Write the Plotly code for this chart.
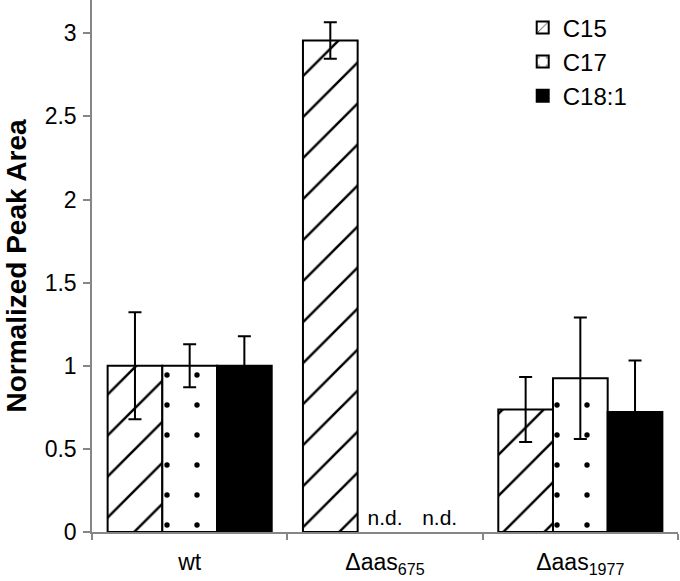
import plotly.graph_objects as go

categories = ["wt", "Δaas675", "Δaas1977"]
tick_labels = ["wt", "Δaas<sub>675</sub>", "Δaas<sub>1977</sub>"]
series_names = ["C15", "C17", "C18:1"]

c15_values = [1.0, 2.956, 0.737]
c15_errors = [0.322, 0.11, 0.195]

c17_values = [1.0, 0.0, 0.925]
c17_errors = [0.129, "NaN", 0.365]
c17_text = ["", "n.d.", ""]

c181_values = [1.0, 0.0, 0.722]
c181_errors = [0.178, "NaN", 0.31]
c181_text = ["", "n.d.", ""]

FONT = "Arial, Liberation Sans, sans-serif"

def err(arr):
    return dict(type="data", array=arr, visible=True, color="black",
                thickness=2, width=6.5)

def outline(values):
    return [2 if v else 0 for v in values]

fig = go.Figure()
fig.add_trace(go.Bar(
    name=series_names[0], x=categories, y=c15_values, error_y=err(c15_errors),
    marker=dict(color="white", line=dict(color="black", width=outline(c15_values)),
                pattern=dict(shape="/", fgcolor="black", bgcolor="white", fgopacity=1,
                             size=29, solidity=0.085, fillmode="overlay")),
))
fig.add_trace(go.Bar(
    name=series_names[1], x=categories, y=c17_values, error_y=err(c17_errors),
    text=c17_text, textposition="outside", cliponaxis=False,
    textfont=dict(size=21, color="black", family=FONT),
    marker=dict(color="white", line=dict(color="black", width=outline(c17_values)),
                pattern=dict(shape=".", fgcolor="black", bgcolor="white", fgopacity=1,
                             size=30, solidity=0.025, fillmode="overlay")),
))
fig.add_trace(go.Bar(
    name=series_names[2], x=categories, y=c181_values, error_y=err(c181_errors),
    text=c181_text, textposition="outside", cliponaxis=False,
    textfont=dict(size=21, color="black", family=FONT),
    marker=dict(color="black", line=dict(color="black", width=outline(c181_values))),
))

fig.update_layout(
    width=680, height=581,
    margin=dict(l=92, r=2, t=0, b=49),
    paper_bgcolor="white", plot_bgcolor="white",
    barmode="group", bargap=0.16, bargroupgap=0,
    font=dict(family=FONT, size=22, color="black"),
    showlegend=True,
    legend=dict(x=0.735, y=0.99, xanchor="left", yanchor="top",
                font=dict(size=24, color="black", family=FONT),
                bgcolor="rgba(0,0,0,0)", tracegroupgap=0, itemwidth=30),
    yaxis=dict(range=[0, 3.2], tickvals=[0, 0.5, 1, 1.5, 2, 2.5, 3],
               ticktext=["0", "0.5", "1", "1.5", "2", "2.5", "3"],
               automargin=False,
               showgrid=False, zeroline=False, showline=True,
               linecolor="#868686", linewidth=1.5,
               ticks="outside", ticklen=7, tickcolor="#868686", tickwidth=1.5,
               tickfont=dict(size=23, color="black"), ticklabelstandoff=2,
               title=dict(text="<b>Normalized Peak Area</b>",
                          font=dict(size=28, color="black"), standoff=10)),
    xaxis=dict(tickmode="array", tickvals=categories, ticktext=tick_labels,
               automargin=False,
               showgrid=False, zeroline=False, showline=True,
               linecolor="#868686", linewidth=1.5,
               ticks="outside", tickson="boundaries", ticklen=6,
               tickcolor="#868686", tickwidth=1.5,
               tickfont=dict(size=23, color="black"), ticklabelstandoff=9),
)

fig.write_html("out.html", config={"displayModeBar": False},
               post_script="document.body.style.margin='0';")
